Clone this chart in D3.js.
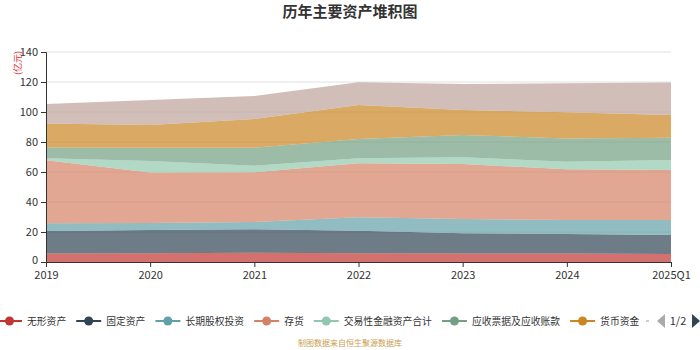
<!DOCTYPE html>
<html><head><meta charset="utf-8">
<script src="https://cdn.jsdelivr.net/npm/d3@7/dist/d3.min.js"></script>
<style>body{margin:0;background:#fff;}svg{display:block;font-family:"Noto Sans CJK SC","Noto Sans",sans-serif;}</style>
</head><body><svg id="c" width="700" height="350"></svg>
<script>
const categories = ["2019","2020","2021","2022","2023","2024","2025Q1"];
const seriesNames = ["无形资产","固定资产","长期股权投资","存货","交易性金融资产合计","应收票据及应收账款","货币资金","其他"];
const s无形资产 = [5.6,5.8,6.2,5.8,5.6,5.6,5.3];
const s固定资产 = [15.1,15.5,15.6,15.1,13.5,13.1,12.7];
const s长期股权投资 = [5.1,4.7,4.9,8.9,9.6,9.3,10.0];
const s存货 = [42.0,33.6,33.1,36.0,36.6,33.8,33.3];
const s交易性金融资产合计 = [1.3,7.7,4.4,3.4,4.5,5.1,6.7];
const s应收票据及应收账款 = [7.3,8.9,12.0,12.8,14.9,15.5,14.9];
const s货币资金 = [15.9,15.1,19.1,22.7,16.6,17.4,15.1];
const s其他 = [13.0,16.7,15.4,15.1,17.4,19.3,21.6];
const yTicks = [0,20,40,60,80,100,120,140];
const colors = ['#c23531','#2f4554','#61a0a8','#d48265','#91c7ae','#749f83','#ca8622','#bda29a'];

const seriesValues = [s无形资产,s固定资产,s长期股权投资,s存货,s交易性金融资产合计,s应收票据及应收账款,s货币资金,s其他];
const rows = categories.map((c,i)=>{const r={cat:c};seriesNames.forEach((n,j)=>r[n]=seriesValues[j][i]);return r;});

const svg = d3.select("#c");
const L=46,R=671,T=52,B=262;
const x = d3.scalePoint().domain(categories).range([L,R]);
const y = d3.scaleLinear().domain([0,140]).range([B,T]);

// title
svg.append("text").attr("x",350).attr("y",17).attr("text-anchor","middle")
  .attr("font-size",15).attr("font-weight","bold").attr("fill","#333").text("历年主要资产堆积图");

// grid
svg.append("g").selectAll("line").data(yTicks.filter(d=>d>0)).join("line")
  .attr("x1",L).attr("x2",R).attr("y1",d=>y(d)).attr("y2",d=>y(d))
  .attr("stroke","#e0e0e0").attr("stroke-width",1);

// stack
const stack = d3.stack().keys(seriesNames)(rows);
const area = d3.area().x(d=>x(d.data.cat)).y0(d=>y(d[0])).y1(d=>y(d[1]));
svg.append("g").selectAll("path").data(stack).join("path")
  .attr("d",area).attr("fill",(d,i)=>colors[i]).attr("fill-opacity",0.7);

// y axis
const ya = svg.append("g").attr("transform",`translate(${L},0)`)
  .call(d3.axisLeft(y).tickValues(yTicks).tickSize(5).tickPadding(3));
ya.select(".domain").attr("stroke","#333");
ya.selectAll(".tick line").attr("stroke","#333");
ya.selectAll("text").attr("font-size",11).attr("fill","#333").attr("font-family","'Noto Sans CJK SC',sans-serif");
ya.selectAll(".tick").filter(d=>d===0).select("text").attr("dy","0.1em");

// x axis
const xa = svg.append("g").attr("transform",`translate(0,${B})`)
  .call(d3.axisBottom(x).tickSize(5).tickPadding(4));
xa.select(".domain").attr("stroke","#333");
xa.selectAll(".tick line").attr("stroke","#333");
xa.selectAll("text").attr("font-size",11).attr("fill","#333").attr("font-family","'Noto Sans CJK SC',sans-serif");

// unit label
svg.append("text").attr("transform","translate(21,63) rotate(-90)").attr("text-anchor","middle")
  .attr("font-size",9).attr("fill","#e03030").text("(亿元)");

// legend
const lg = svg.append("g");
let lx = -3; const ly = 321;
seriesNames.slice(0,7).forEach((n,i)=>{
  const g = lg.append("g");
  g.append("line").attr("x1",lx).attr("x2",lx+25).attr("y1",ly).attr("y2",ly).attr("stroke",colors[i]).attr("stroke-width",2);
  g.append("circle").attr("cx",lx+12.5).attr("cy",ly).attr("r",4.5).attr("fill",colors[i]);
  const t = g.append("text").attr("x",lx+30).attr("y",ly+3.5).attr("font-size",9.8).attr("fill","#333").text(n);
  lx += 30 + t.node().getComputedTextLength() + 10;
});
// clipped next item hint
svg.append("line").attr("x1",646).attr("x2",649).attr("y1",ly).attr("y2",ly).attr("stroke","#ccc").attr("stroke-width",2);
// pager
svg.append("path").attr("d","M665,314 L657,321 L665,328 Z").attr("fill","#aaa");
svg.append("text").attr("x",678).attr("y",325).attr("text-anchor","middle").attr("font-size",11).attr("fill","#333").text("1/2");
svg.append("path").attr("d","M692,314 L700,321 L692,328 Z").attr("fill","#2f4554");

// footer
svg.append("text").attr("x",350).attr("y",346).attr("text-anchor","middle").attr("font-size",8).attr("fill","#c8a050").text("制图数据来自恒生聚源数据库");
</script></body></html>
